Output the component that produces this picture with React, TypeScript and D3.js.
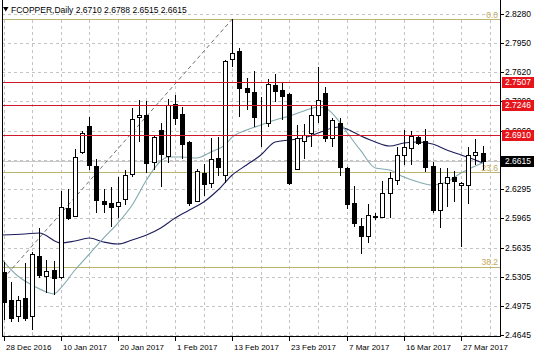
import React from "react";
import * as d3 from "d3";

const symbolTitle = "FCOPPER,Daily";
const lastOHLC = ["2.6710", "2.6788", "2.6515", "2.6615"];

const opens = [
  2.5358, 2.5041, 2.486, 2.5064, 2.486, 2.554, 2.5313, 2.5381, 2.5302, 2.6083,
  2.5993, 2.6717, 2.7012, 2.6559, 2.6162, 2.614, 2.6106, 2.6185, 2.6468, 2.7114,
  2.7136, 2.6604, 2.6966, 2.6672, 2.7261, 2.7148, 2.6831, 2.6162, 2.648, 2.6366,
  2.6649, 2.6457, 2.777, 2.7861, 2.7442, 2.7397, 2.7108, 2.7046, 2.7476, 2.7419,
  2.7374, 2.6525, 2.6842, 2.6932, 2.7136, 2.7385, 2.6876, 2.7046, 2.6536, 2.614,
  2.5879, 2.5766, 2.5993, 2.5981, 2.6253, 2.64, 2.6683, 2.6763, 2.6887, 2.6842,
  2.6559, 2.606, 2.6366, 2.6434, 2.6344, 2.6344, 2.6683, 2.671,
];
const highs = [
  2.5472, 2.5245, 2.5087, 2.546, 2.5585, 2.5857, 2.5494, 2.5483, 2.6276, 2.6298,
  2.6751, 2.6955, 2.7114, 2.6638, 2.6298, 2.6321, 2.6434, 2.6514, 2.7215, 2.7306,
  2.7295, 2.691, 2.7046, 2.7317, 2.7363, 2.7227, 2.6842, 2.6525, 2.6581, 2.6876,
  2.6887, 2.7759, 2.8223, 2.7895, 2.7555, 2.7635, 2.734, 2.7544, 2.7601, 2.7499,
  2.7385, 2.7023, 2.7034, 2.7249, 2.768, 2.7453, 2.7102, 2.7102, 2.6547, 2.6332,
  2.597, 2.6128, 2.6027, 2.6389, 2.6491, 2.6774, 2.6966, 2.6955, 2.6898, 2.6978,
  2.6604, 2.6536, 2.6536, 2.6502, 2.6378, 2.6774, 2.6864, 2.6788,
];
const lows = [
  2.4815, 2.4792, 2.4792, 2.4803, 2.4702, 2.529, 2.5121, 2.5098, 2.5279, 2.5947,
  2.5981, 2.6695, 2.6514, 2.6027, 2.6027, 2.5868, 2.597, 2.6117, 2.6434, 2.6831,
  2.648, 2.6514, 2.6321, 2.6593, 2.7023, 2.6638, 2.6106, 2.6151, 2.6219, 2.631,
  2.6446, 2.6366, 2.768, 2.7114, 2.7193, 2.7, 2.6774, 2.7, 2.7283, 2.708,
  2.6344, 2.6514, 2.6638, 2.6774, 2.7046, 2.6831, 2.6774, 2.6446, 2.6072, 2.5868,
  2.5562, 2.5687, 2.5947, 2.597, 2.597, 2.6344, 2.657, 2.657, 2.6797, 2.6491,
  2.6027, 2.5857, 2.6094, 2.6151, 2.5642, 2.6128, 2.657, 2.6515,
];
const closes = [
  2.5019, 2.4837, 2.5041, 2.4837, 2.5562, 2.5324, 2.537, 2.529, 2.6094, 2.597,
  2.6661, 2.6932, 2.657, 2.6174, 2.6128, 2.6094, 2.6151, 2.6457, 2.7091, 2.7136,
  2.6593, 2.6887, 2.6695, 2.7249, 2.7102, 2.6808, 2.614, 2.6502, 2.6355, 2.6638,
  2.6547, 2.7748, 2.7838, 2.7442, 2.7397, 2.7114, 2.711, 2.7487, 2.7408, 2.7351,
  2.6366, 2.6876, 2.691, 2.7136, 2.7306, 2.6876, 2.708, 2.6547, 2.6128, 2.5913,
  2.5766, 2.6004, 2.5981, 2.6253, 2.6423, 2.6683, 2.6774, 2.6898, 2.6819, 2.6547,
  2.606, 2.6366, 2.6434, 2.6389, 2.6366, 2.6683, 2.6717, 2.6615,
];

const dateLabels = [
  "28 Dec 2016", "10 Jan 2017", "20 Jan 2017", "1 Feb 2017", "13 Feb 2017",
  "23 Feb 2017", "7 Mar 2017", "16 Mar 2017", "27 Mar 2017",
];
const dateLabelBars = [0, 8, 16, 24, 32, 40, 48, 56, 64];

const priceTicks = [
  "2.8280", "2.7950", "2.7620", "2.7290", "2.6960", "2.6625",
  "2.6295", "2.5965", "2.5635", "2.5305", "2.4975", "2.4645",
];

const redLevels = [2.7507, 2.7246, 2.691];
const lastPrice = 2.6615;

const fibHighBar = 32;
const fibHigh = 2.8223;
const fibLowBar = -48;
const fibLow = 2.088;
const fibLevels = [0, 23.6, 38.2, 50];

const slowMABars = [-0.4, 3, 5, 8, 10, 12, 14, 16, 18, 20, 22, 24, 26, 28, 30, 32, 34, 36, 38, 40, 42, 44, 46, 47, 48, 50, 52, 54, 56, 58, 60, 62, 64, 66, 67];
const slowMAVals = [2.5777, 2.5789, 2.58, 2.5687, 2.571, 2.5743, 2.5698, 2.5675, 2.5721, 2.5777, 2.5857, 2.597, 2.606, 2.6151, 2.6287, 2.6457, 2.657, 2.6683, 2.6831, 2.6853, 2.6876, 2.6932, 2.6989, 2.7, 2.6978, 2.6898, 2.6831, 2.6785, 2.6819, 2.6831, 2.6808, 2.674, 2.6683, 2.6627, 2.6593];

const fastMABars = [-0.4, 2, 4, 6, 7, 8, 10, 12, 14, 16, 18, 20, 22, 23, 25, 27, 29, 31, 32, 34, 36, 38, 40, 42, 44, 45, 47, 48, 50, 52, 54, 56, 58, 60, 62, 64, 66, 67];
const fastMAVals = [2.5517, 2.5313, 2.5211, 2.5132, 2.5109, 2.5177, 2.5381, 2.5562, 2.5743, 2.5913, 2.6117, 2.64, 2.6615, 2.6661, 2.6661, 2.6649, 2.6717, 2.6797, 2.6887, 2.6966, 2.7023, 2.708, 2.7125, 2.7182, 2.7227, 2.7215, 2.7057, 2.6944, 2.6729, 2.6536, 2.6514, 2.6434, 2.6378, 2.6344, 2.6378, 2.648, 2.6559, 2.6593];

const FONT = "'Liberation Sans', Arial, sans-serif";

export default function App() {
  const W = 536;
  const H = 357;
  const plotLeft = 2;
  const plotRight = 500;
  const plotBottom = 336;

  const x = d3.scaleLinear().domain([0, 67]).range([3.5, 482.55]);
  const y = d3.scaleLinear().domain([2.4645, 2.828]).range([335, 14]);

  const gridBars = d3.range(0, 69, 4);
  const cr = (v: number) => Math.round(v) + 0.5;

  const slowLine = d3
    .line<number>()
    .x((_, i) => x(slowMABars[i]))
    .y((d) => y(d))
    .curve(d3.curveMonotoneX)(slowMAVals) as string;
  const fastLine = d3
    .line<number>()
    .x((_, i) => x(fastMABars[i]))
    .y((d) => y(d))
    .curve(d3.curveMonotoneX)(fastMAVals) as string;

  const fibPrice = (lvl: number) => fibHigh - ((fibHigh - fibLow) * lvl) / 100;
  const fibColor = "#bdb56e";
  const redLine = "#d0182c";
  const redBox = "#e5151b";
  const gridColor = "#c4c4c4";

  return (
    <svg
      width={W}
      height={H}
      viewBox={`0 0 ${W} ${H}`}
      style={{ position: "absolute", left: 0, top: 0, display: "block", background: "#fff" }}
    >
      <defs>
        <clipPath id="plot">
          <rect x={plotLeft} y={0} width={plotRight - plotLeft} height={plotBottom} />
        </clipPath>
      </defs>
      <rect x={0} y={0} width={W} height={H} fill="#fff" />

      <g clipPath="url(#plot)">
        {gridBars.map((b) => (
          <line
            key={"vg" + b}
            x1={cr(x(b))}
            x2={cr(x(b))}
            y1={20}
            y2={plotBottom}
            stroke={gridColor}
            strokeDasharray="3,3"
          />
        ))}
        {priceTicks.map((t) => (
          <line
            key={"hg" + t}
            x1={plotLeft}
            x2={plotRight}
            y1={cr(y(+t))}
            y2={cr(y(+t))}
            stroke={gridColor}
            strokeDasharray="3,3"
          />
        ))}

        <line x1={plotLeft} x2={plotRight} y1={cr(y(lastPrice))} y2={cr(y(lastPrice))} stroke="#c8c8c8" />

        {fibLevels.map((l) => (
          <g key={"fib" + l}>
            <line
              x1={plotLeft}
              x2={plotRight}
              y1={cr(y(fibPrice(l)))}
              y2={cr(y(fibPrice(l)))}
              stroke={fibColor}
              strokeWidth={1}
            />
            <text
              x={498}
              y={y(fibPrice(l)) - 1.5}
              textAnchor="end"
              fontFamily={FONT}
              fontSize={8.5}
              fill="#c2a85a"
            >
              {l.toFixed(1)}
            </text>
          </g>
        ))}
        <line
          x1={x(fibLowBar)}
          y1={y(fibLow)}
          x2={x(fibHighBar)}
          y2={y(fibHigh)}
          stroke="#707070"
          strokeDasharray="4,3"
        />

        <path d={slowLine} fill="none" stroke="#1d1d5c" strokeWidth={1.1} />
        <path d={fastLine} fill="none" stroke="#82aab0" strokeWidth={1.1} />

        {opens.map((o, i) => {
          const c = closes[i];
          const cx = Math.round(x(i));
          const bull = c >= o;
          const top = Math.round(y(Math.max(o, c)));
          const bot = Math.round(y(Math.min(o, c)));
          return (
            <g key={"c" + i}>
              <line
                x1={cx + 0.5}
                x2={cx + 0.5}
                y1={Math.round(y(highs[i]))}
                y2={Math.round(y(lows[i]))}
                stroke="#000"
              />
              <rect
                x={cx - 1.5}
                y={top + 0.5}
                width={4}
                height={Math.max(0, bot - top)}
                fill={bull ? "#fff" : "#000"}
                stroke="#000"
              />
            </g>
          );
        })}

        {redLevels.map((r) => (
          <rect key={"rl" + r} x={plotLeft} width={plotRight - plotLeft} y={Math.round(y(r))} height={1} fill={redLine} />
        ))}
      </g>

      <line x1={2.5} x2={2.5} y1={0} y2={plotBottom + 0.5} stroke="#000" />
      <line x1={plotRight + 0.5} x2={plotRight + 0.5} y1={0} y2={plotBottom + 0.5} stroke="#000" />
      <line x1={2} x2={plotRight + 1} y1={plotBottom + 0.5} y2={plotBottom + 0.5} stroke="#000" />

      {priceTicks.map((t) => (
        <g key={"pt" + t}>
          <line x1={plotRight} x2={plotRight + 4} y1={cr(y(+t))} y2={cr(y(+t))} stroke="#000" />
          <text x={505} y={y(+t)} dy="0.35em" fontFamily={FONT} fontSize={8.5} fill="#000">
            {t}
          </text>
        </g>
      ))}
      {redLevels.map((r) => (
        <g key={"rb" + r}>
          <rect x={502} y={Math.round(y(r)) - 5} width={32} height={11} fill={redBox} />
          <text x={505} y={y(r)} dy="0.35em" fontFamily={FONT} fontSize={8.5} fill="#fff">
            {r.toFixed(4)}
          </text>
        </g>
      ))}
      <rect x={501} y={Math.round(y(lastPrice)) - 5} width={33} height={11} fill="#000" />
      <text x={505} y={y(lastPrice)} dy="0.35em" fontFamily={FONT} fontSize={8.5} fill="#fff">
        {lastPrice.toFixed(4)}
      </text>

      {dateLabels.map((d, k) => {
        const tx = Math.round(x(dateLabelBars[k]));
        return (
          <g key={"dl" + d}>
            <line x1={tx + 0.5} x2={tx + 0.5} y1={plotBottom} y2={plotBottom + 5} stroke="#000" />
            <text x={tx + 2} y={350} fontFamily={FONT} fontSize={8} fill="#000">
              {d}
            </text>
          </g>
        );
      })}

      <polygon points="3,7 8.5,7 5.75,11.5" fill="#000" />
      <text x={11} y={12.5} fontFamily={FONT} fontSize={8.5} fill="#000">
        {symbolTitle + "  " + lastOHLC.join(" ")}
      </text>
    </svg>
  );
}
